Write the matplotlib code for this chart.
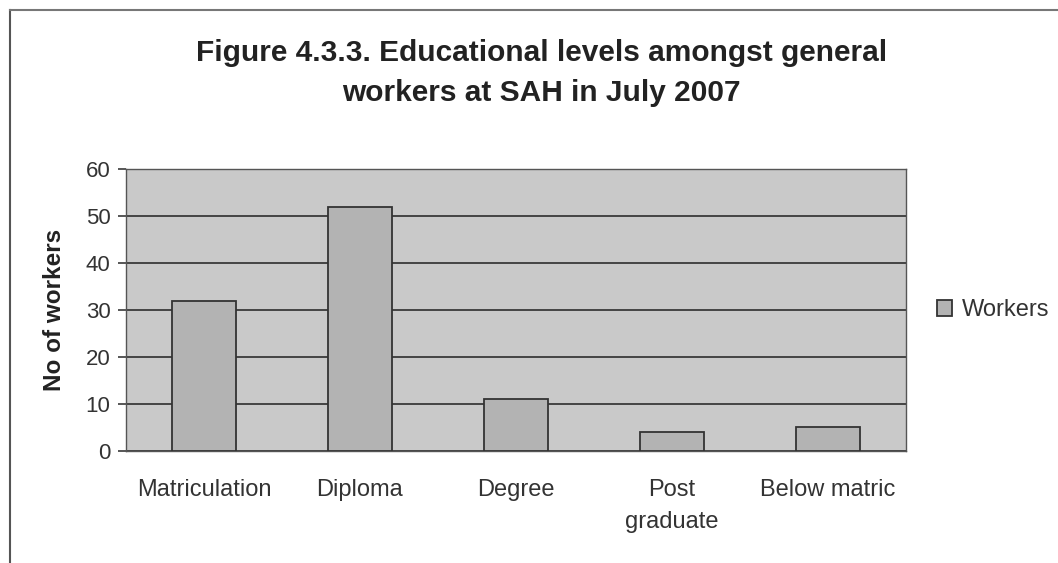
import matplotlib.pyplot as plt
from matplotlib.lines import Line2D

# Educational levels of general workers
levels = ['Matriculation', 'Diploma', 'Degree', 'Post\ngraduate', 'Below matric']
workers = [32, 52, 11, 4, 5]
y_ticks = [0, 10, 20, 30, 40, 50, 60]

plt.rcParams['font.family'] = ['Liberation Sans', 'DejaVu Sans']

fig = plt.figure(figsize=(10.58, 5.63), dpi=100)
ax = fig.add_axes([0.119, 0.199, 0.737, 0.501])

ax.set_facecolor('#c9c9c9')
ax.bar(range(len(levels)), workers, width=0.41, color='#b3b3b3',
       edgecolor='#333333', linewidth=1.3, label='Workers', zorder=3)

ax.set_xlim(-0.5, len(levels) - 0.5)
ax.set_ylim(0, 60)
ax.set_yticks(y_ticks)
ax.yaxis.grid(True, color='#3a3a3a', linewidth=1.3, zorder=1)
ax.set_axisbelow(True)

ax.set_xticks(range(len(levels)))
ax.set_xticklabels(levels, fontsize=17, color='#333333', linespacing=1.6)
ax.tick_params(axis='x', length=0, pad=20)
ax.tick_params(axis='y', length=6, width=1.2, color='#3a3a3a',
               labelsize=16, labelcolor='#333333', pad=5)
# keep the two-line label's first line level with the others
for lab in ax.get_xticklabels():
    lab.set_verticalalignment('top')

for side in ax.spines.values():
    side.set_color('#555555')
    side.set_linewidth(1.0)

ax.set_ylabel('No of workers', fontsize=17.5, fontweight='bold',
              color='#222222', labelpad=14)

fig.text(0.512, 0.905, 'Figure 4.3.3. Educational levels amongst general',
         ha='center', va='center', fontsize=21.5, fontweight='bold', color='#222222')
fig.text(0.512, 0.834, 'workers at SAH in July 2007',
         ha='center', va='center', fontsize=21.5, fontweight='bold', color='#222222')

leg = ax.legend(loc='center left', bbox_to_anchor=(1.016, 0.5), frameon=False,
                fontsize=17, handlelength=0.65, handleheight=0.65,
                handletextpad=0.4, borderpad=0.3)
for t in leg.get_texts():
    t.set_color('#333333')

# outer chart frame (left and top edges)
fig.add_artist(Line2D([0.0095, 0.0095], [0.0, 0.982], color='#555555',
                      linewidth=1.5, transform=fig.transFigure))
fig.add_artist(Line2D([0.0095, 1.0], [0.982, 0.982], color='#777777',
                      linewidth=1.5, transform=fig.transFigure))

fig.savefig('out.png', dpi=100)
